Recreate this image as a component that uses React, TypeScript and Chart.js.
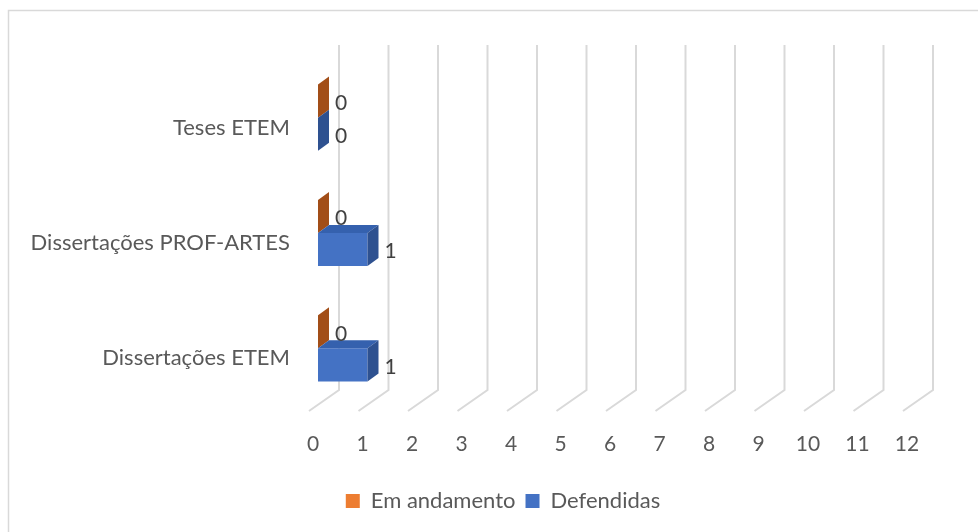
import React, { useEffect, useRef } from "react";
import { Chart, registerables } from "chart.js";

Chart.register(...registerables);

const categories = ["Dissertações ETEM", "Dissertações PROF-ARTES", "Teses ETEM"];
const emAndamento = [0, 0, 0];
const defendidas = [1, 1, 0];
const seriesNames = ["Em andamento", "Defendidas"];
const xTicks = [0, 1, 2, 3, 4, 5, 6, 7, 8, 9, 10, 11, 12];

const FONT = "Lato, 'Open Sans', sans-serif";
const TEXT = "#595959";
const GRID = "#D9D9D9";
const FRONT = ["#ED7D31", "#4472C4"];
const TOP = ["#B5581C", "#3561AE"];
const SIDE = ["#A24E18", "#2E5190"];
const DX = 11;
const DY = -8;
const LEGEND_SHIFT = 47;

const frame3d = {
  id: "frame3d",
  afterLayout(chart: any) {
    if (chart.legend) {
      chart.legend.left += LEGEND_SHIFT;
      chart.legend.right += LEGEND_SHIFT;
    }
  },
  beforeDraw(chart: any) {
    const ctx = chart.ctx;
    ctx.save();
    ctx.strokeStyle = GRID;
    ctx.lineWidth = 1.5;
    ctx.beginPath();
    ctx.moveTo(8.5, 540);
    ctx.lineTo(8.5, 10.5);
    ctx.lineTo(990, 10.5);
    ctx.stroke();
    ctx.restore();
  },
  beforeDatasetsDraw(chart: any) {
    const ctx = chart.ctx;
    const xs = chart.scales.x;
    ctx.save();
    ctx.strokeStyle = GRID;
    ctx.lineWidth = 2;
    for (const v of xTicks) {
      const px = xs.getPixelForValue(v);
      ctx.beginPath();
      ctx.moveTo(px + 21, 45);
      ctx.lineTo(px + 21, 390);
      ctx.lineTo(px - 9, 411);
      ctx.stroke();
    }
    ctx.restore();
  },
  afterDatasetsDraw(chart: any) {
    const ctx = chart.ctx;
    ctx.save();
    const n = chart.data.labels.length;
    for (let i = 0; i < n; i++) {
      chart.data.datasets.forEach((ds: any, di: number) => {
        const bar = chart.getDatasetMeta(di).data[i];
        const { x, base, y, height } = bar.getProps(["x", "base", "y", "height"], true);
        const top = y - height / 2;
        const bottom = y + height / 2;
        const left = Math.min(x, base);
        const right = Math.max(x, base);
        if (right - left > 0.5) {
          ctx.fillStyle = TOP[di];
          ctx.beginPath();
          ctx.moveTo(left, top);
          ctx.lineTo(left + DX, top + DY);
          ctx.lineTo(right + DX, top + DY);
          ctx.lineTo(right, top);
          ctx.closePath();
          ctx.fill();
        }
        ctx.fillStyle = SIDE[di];
        ctx.beginPath();
        ctx.moveTo(right, top);
        ctx.lineTo(right + DX, top + DY);
        ctx.lineTo(right + DX, bottom + DY);
        ctx.lineTo(right, bottom);
        ctx.closePath();
        ctx.fill();
      });
    }
    ctx.fillStyle = "#404040";
    ctx.font = `21px ${FONT}`;
    ctx.textAlign = "left";
    ctx.textBaseline = "middle";
    chart.data.datasets.forEach((ds: any, di: number) => {
      chart.getDatasetMeta(di).data.forEach((bar: any, i: number) => {
        const { x, y } = bar.getProps(["x", "y"], true);
        ctx.fillText(String(ds.data[i]), x + 17, y + 2);
      });
    });
    ctx.restore();
  },
};

export default function App() {
  const ref = useRef<HTMLCanvasElement>(null);
  useEffect(() => {
    document.body.style.margin = "0";
    const chart = new Chart(ref.current!, {
      type: "bar",
      data: {
        labels: categories,
        datasets: [
          { label: seriesNames[0], data: emAndamento, backgroundColor: FRONT[0], borderWidth: 0 },
          { label: seriesNames[1], data: defendidas, backgroundColor: FRONT[1], borderWidth: 0 },
        ],
      },
      options: {
        indexAxis: "y",
        animation: false,
        responsive: false,
        maintainAspectRatio: false,
        categoryPercentage: 0.573,
        barPercentage: 1,
        layout: { padding: { top: 60, right: 66, bottom: 10, left: 0 } },
        scales: {
          x: {
            min: 0,
            max: 12,
            grid: { display: false },
            border: { display: false },
            ticks: {
              stepSize: 1,
              padding: 18,
              labelOffset: -5,
              color: TEXT,
              font: { family: FONT, size: 21 },
            },
            afterFit: (s: any) => {
              s.height = 74;
            },
          },
          y: {
            reverse: true,
            grid: { display: false },
            border: { display: false },
            ticks: {
              padding: 20,
              labelOffset: 10,
              color: TEXT,
              font: { family: FONT, size: 22 },
            },
            afterFit: (s: any) => {
              s.width = 318;
            },
          },
        },
        plugins: {
          legend: {
            position: "bottom",
            labels: {
              boxWidth: 14,
              boxHeight: 14,
              color: TEXT,
              font: { family: FONT, size: 22 },
            },
          },
          tooltip: { enabled: false },
        },
      },
      plugins: [frame3d],
    });
    return () => chart.destroy();
  }, []);
  return (
    <div style={{ width: 978, height: 532 }}>
      <canvas ref={ref} width={978} height={532} style={{ width: 978, height: 532 }} />
    </div>
  );
}
